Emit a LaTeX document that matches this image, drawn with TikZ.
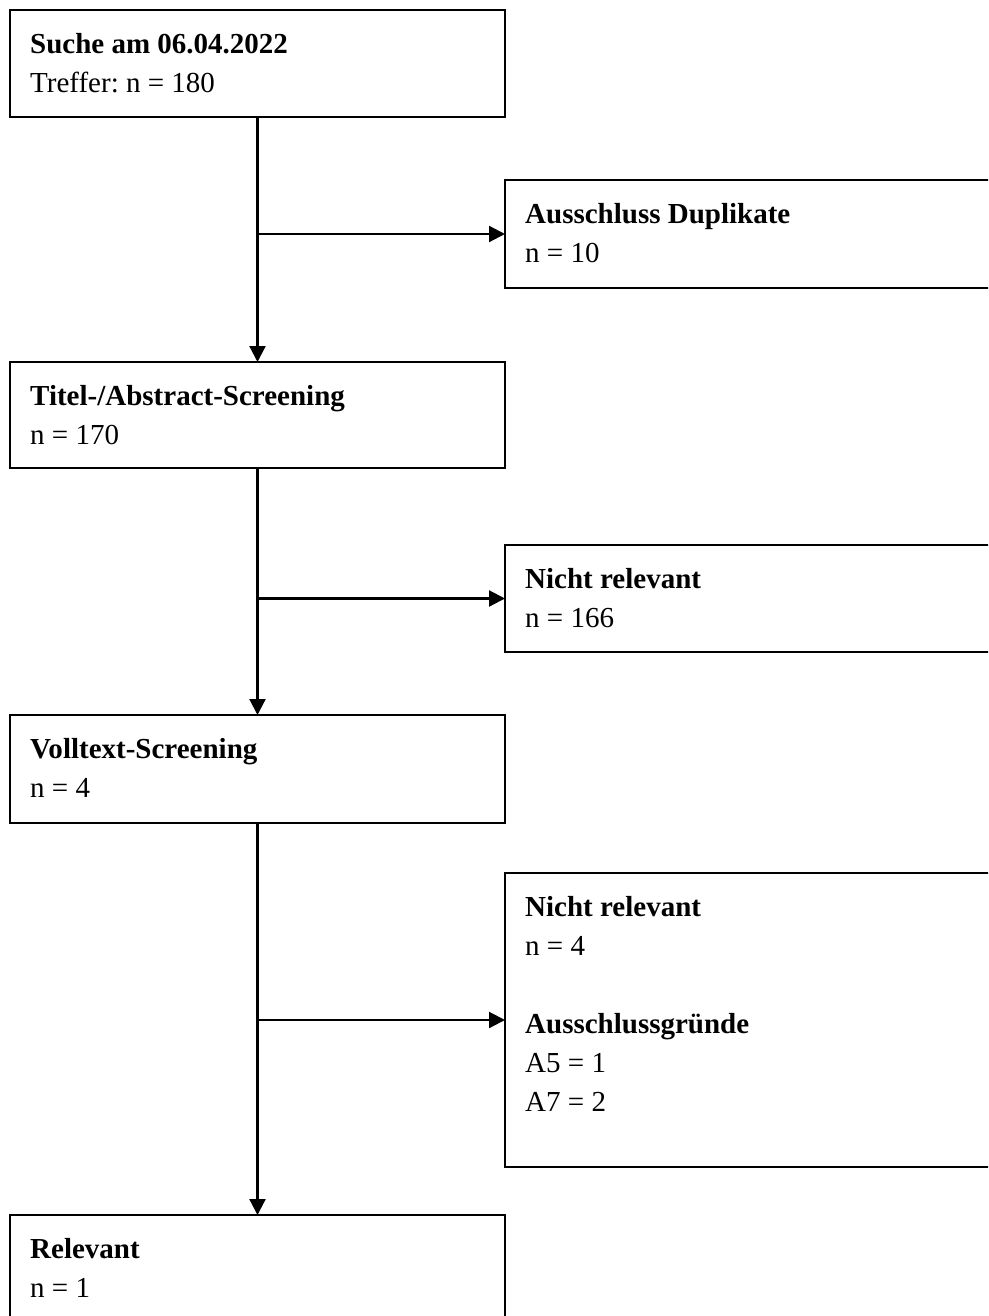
\documentclass[tikz,border=0pt]{standalone}
\usepackage{fontspec}
\setmainfont{Liberation Serif}
\usetikzlibrary{arrows.meta,calc}
\frenchspacing
\begin{document}
\begin{tikzpicture}[x=1pt,y=-1pt,
  box/.style={draw,line width=2.2pt,rectangle,anchor=north west,inner sep=0pt,outer sep=0pt},
  lbox/.style={box,minimum width=495pt},
  rbox/.style={box,minimum width=500pt},
  txt/.style={anchor=north west,inner sep=0pt,align=left,font=\fontsize{29}{39}\selectfont\frenchspacing},
  flow/.style={line width=2.2pt,-{Triangle[length=16pt,width=16pt]}}]
\useasboundingbox (0,0) rectangle (988,1316);
\clip (0,0) rectangle (988,1316);
% boxes
\node[lbox,minimum height=107pt] (b1) at (10,10) {};
\node[rbox,minimum height=108pt] (b2) at (505,180) {};
\node[lbox,minimum height=106pt] (b3) at (10,362) {};
\node[rbox,minimum height=107pt] (b4) at (505,545) {};
\node[lbox,minimum height=108pt] (b5) at (10,715) {};
\node[rbox,minimum height=294pt] (b6) at (505,873) {};
\node[lbox,minimum height=130pt] (b7) at (10,1215) {};
% texts
\node[txt] (t1) at ($(b1.north west)+(20,15.7)$) {\strut\textbf{Suche am 06.04.2022}\\Treffer: n = 180};
\node[txt] (t2) at ($(b2.north west)+(20,15.7)$) {\strut\textbf{Ausschluss Duplikate}\\n = 10};
\node[txt] (t3) at ($(b3.north west)+(20,15.7)$) {\strut\textbf{Titel-/Abstract-Screening}\\n = 170};
\node[txt] (t4) at ($(b4.north west)+(20,15.7)$) {\strut\textbf{Nicht relevant}\\n = 166};
\node[txt] (t5) at ($(b5.north west)+(20,15.7)$) {\strut\textbf{Volltext-Screening}\\n = 4};
\node[txt] (t6) at ($(b6.north west)+(20,15.7)$) {\strut\textbf{Nicht relevant}\\n = 4\\\mbox{}\\\textbf{Ausschlussgründe}\\A5 = 1\\A7 = 2};
\node[txt] (t7) at ($(b7.north west)+(20,15.7)$) {\strut\textbf{Relevant}\\n = 1};
% connectors
\coordinate (j1) at (b1.south |- b2.west);
\coordinate (j2) at (b3.south |- b4.west);
\coordinate (j3) at (b5.south |- b6.west);
\draw[flow] (b1.south) -- (b3.north);
\draw[flow] (j1) -- (b2.west);
\draw[flow] (b3.south) -- (b5.north);
\draw[flow] (j2) -- (b4.west);
\draw[flow] (b5.south) -- (b7.north);
\draw[flow] (j3) -- (b6.west);
\end{tikzpicture}
\end{document}
